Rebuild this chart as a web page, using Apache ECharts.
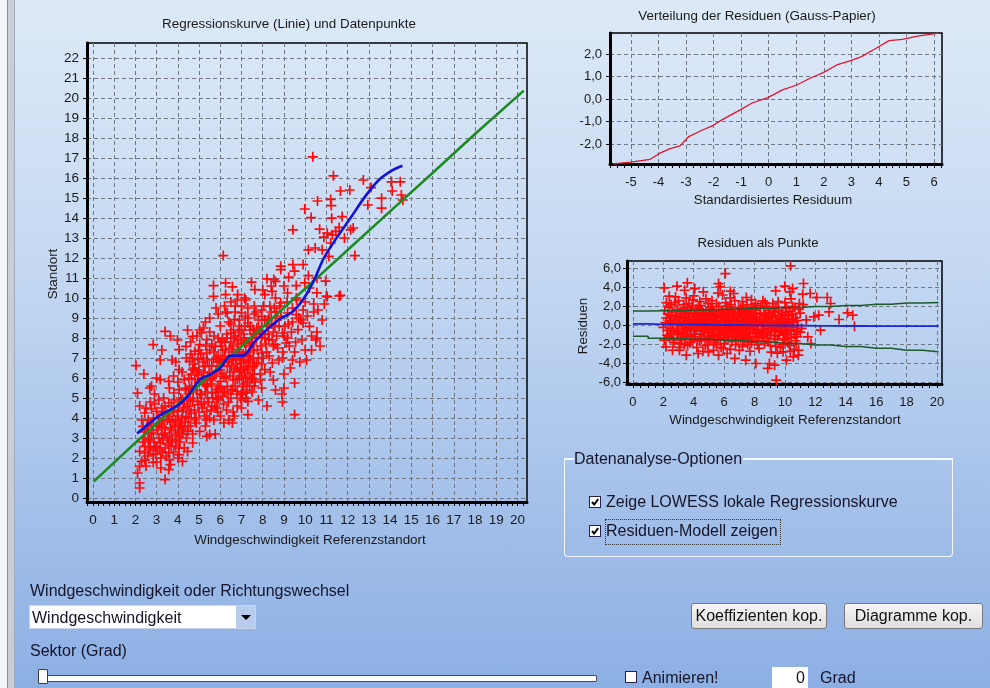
<!DOCTYPE html>
<html><head><meta charset="utf-8">
<script src="https://cdn.jsdelivr.net/npm/echarts@6/dist/echarts.min.js"></script>
<style>
html,body{margin:0;padding:0;}
body{width:990px;height:688px;position:relative;overflow:hidden;font-family:'Liberation Sans',Arial,sans-serif;
background:linear-gradient(to bottom,#dde9f7 0%,#c8dbf3 35%,#a9c4eb 68%,#8cafe4 100%);}
#chart{position:absolute;left:0;top:0;width:990px;height:688px;}
.ui{position:absolute;color:#15152a;font-size:16px;white-space:nowrap;line-height:19px;}
.cb{position:absolute;width:10px;height:10px;background:#fff;border:1px solid #23234a;}
.cb svg{position:absolute;left:0;top:0;}
.btn{position:absolute;height:26px;border:1px solid #7a7a7a;border-radius:3px;background:linear-gradient(#f6f6f6,#dedede);font-size:16px;color:#111;text-align:center;line-height:24px;box-sizing:border-box;}
</style></head>
<body>
<div style="position:absolute;left:0;top:0;width:7px;height:688px;background:#f3f5f8"></div>
<div style="position:absolute;left:7px;top:0;width:6px;height:688px;background:#c9ced6;border-left:1px solid #878d98;border-right:1px solid #a3abb8"></div>
<div id="chart"></div>

<div class="ui" style="left:30px;top:581px">Windgeschwindigkeit oder Richtungswechsel</div>
<div style="position:absolute;left:29px;top:605px;width:227px;height:24px;background:#fff;box-sizing:border-box;border:1px solid #c9d5e6">
  <div class="ui" style="left:2px;top:2px">Windgeschwindigkeit</div>
  <div style="position:absolute;right:0;top:0;width:19px;height:22px;background:#b8cdee">
    <div style="position:absolute;left:5px;top:9px;width:0;height:0;border-left:5px solid transparent;border-right:5px solid transparent;border-top:5px solid #000"></div>
  </div>
</div>
<div class="ui" style="left:30px;top:641px">Sektor (Grad)</div>
<div style="position:absolute;left:40px;top:675px;width:555px;height:5px;background:#fff;border:1px solid #4a4a4a;border-radius:1px"></div>
<div style="position:absolute;left:38px;top:669px;width:8px;height:13px;background:#fafafa;border:1px solid #3a3a3a;border-radius:1px"></div>

<div class="cb" style="left:625px;top:671px"></div>
<div class="ui" style="left:642px;top:668px">Animieren!</div>
<div style="position:absolute;left:772px;top:667px;width:36px;height:22px;background:#fff"></div>
<div class="ui" style="left:796px;top:668px">0</div>
<div class="ui" style="left:820px;top:668px">Grad</div>

<div class="btn" style="left:691px;top:603px;width:136px">Koeffizienten kop.</div>
<div class="btn" style="left:844px;top:603px;width:139px">Diagramme kop.</div>

<div style="position:absolute;left:564px;top:458px;width:389px;height:99px;border:1.5px solid #f4f8fd;border-top:none;border-radius:0 0 4px 4px;box-sizing:border-box"></div>
<div style="position:absolute;left:564px;top:458px;width:10px;height:1.5px;background:#f4f8fd"></div>
<div style="position:absolute;left:743px;top:458px;width:210px;height:1.5px;background:#f4f8fd"></div>
<div class="ui" style="left:574px;top:449px">Datenanalyse-Optionen</div>

<div class="cb" style="left:589px;top:496px"><svg width="10" height="10"><path d="M2 5 L4.2 7.5 L8.2 2.2" stroke="#000" stroke-width="2" fill="none"/></svg></div>
<div class="ui" style="left:606px;top:492px">Zeige LOWESS lokale Regressionskurve</div>
<div class="cb" style="left:589px;top:525px"><svg width="10" height="10"><path d="M2 5 L4.2 7.5 L8.2 2.2" stroke="#000" stroke-width="2" fill="none"/></svg></div>
<div style="position:absolute;left:605px;top:519px;width:176px;height:26px;border:1px dotted #333;box-sizing:border-box"></div>
<div class="ui" style="left:606px;top:521px">Residuen-Modell zeigen</div>

<script>
// ---------- data ----------
const mainTicksX = [0,1,2,3,4,5,6,7,8,9,10,11,12,13,14,15,16,17,18,19,20];
const mainTicksY = [0,1,2,3,4,5,6,7,8,9,10,11,12,13,14,15,16,17,18,19,20,21,22];
const gaussTicksX = [-5,-4,-3,-2,-1,0,1,2,3,4,5,6];
const gaussTicksY = [-2,-1,0,1,2];
const residTicksX = [0,2,4,6,8,10,12,14,16,18,20];
const residTicksY = [-6,-4,-2,0,2,4,6];
const mainMinorStep = 0.25, gaussMinorStep = 0.25, residMinorStep = 0.5;

const mainPoints = [
[2.03,6.62],[2.1,5.25],[2.2,4.6],[2.4,6.2],[2.76,5.6],[2.68,5.5],[3.0,6.0],[3.17,6.9],[2.84,7.67],[3.25,7.4],
[3.4,8.33],[3.65,8.1],[3.98,7.9],[3.73,6.9],[3.9,6.8],[4.46,8.4],[5.03,8.4],[5.3,8.8],[5.8,9.5],[6.25,9.3],
[6.8,9.9],[7.2,9.9],[7.6,9.6],[7.95,9.4],[8.6,10.0],[8.85,9.75],[9.17,9.25],[9.4,8.8],[9.9,9.4],[10.4,9.3],
[10.55,8.3],[10.9,9.7],[10.8,8.9],[11.0,10.1],[11.6,10.1],[10.55,8.0],[10.0,7.4],[10.3,7.4],[9.75,6.8],[10.06,6.9],
[9.5,7.3],[8.93,7.0],[8.6,7.67],[9.1,7.75],[8.5,5.9],[9.0,5.5],[9.5,5.75],[8.93,4.8],[8.2,4.6],[7.3,4.17],
[9.5,4.17],[7.95,5.5],[7.6,5.6],[7.3,4.83],[6.98,5.17],[6.66,4.1],[6.17,3.75],[6.57,3.75],[5.84,4.5],[5.5,3.17],
[5.76,3.2],[5.36,3.08],[5.03,3.33],[4.87,3.75],[4.7,2.75],[4.46,2.33],[4.06,2.17],[4.22,1.83],[4.46,3.33],[4.06,3.08],
[3.73,2.9],[3.57,2.25],[3.65,1.67],[3.4,0.92],[3.57,1.42],[3.17,2.75],[3.25,3.17],[3.0,3.58],[2.84,2.17],[2.84,1.78],
[2.44,2.25],[2.2,2.33],[2.3,1.83],[2.2,1.58],[2.1,1.25],[2.2,0.75],[2.2,0.5],[2.44,2.58],[2.68,2.92],[2.92,2.58],
[2.6,3.9],[2.44,4.25],[2.76,4.45],[3.0,4.33],[3.25,3.58],[3.4,3.25],[3.65,3.5],[3.9,3.9],[4.06,3.58],[4.22,4.33],
[4.38,4.08],[4.63,4.25],[4.7,4.83],[4.95,4.67],[4.46,4.58],[4.22,4.92],[4.06,5.42],[3.81,5.25],[3.57,4.75],[3.33,5.0],
[3.17,5.92],[3.57,5.83],[4.06,6.42],[4.3,5.92],[4.55,5.5],[4.8,5.92],[4.7,6.42],[4.95,6.92],[4.8,7.33],[5.03,7.67],
[5.36,7.25],[5.28,6.58],[5.5,6.25],[5.36,5.58],[5.6,5.25],[5.84,5.42],[6.0,5.83],[6.17,6.08],[6.33,6.58],[6.0,6.92],
[5.76,7.58],[6.1,7.92],[6.5,8.25],[6.8,7.92],[7.0,8.42],[7.3,8.75],[7.55,8.42],[7.95,8.58],[8.3,9.0],[7.95,9.08],
[6.66,8.92],[6.33,9.25],[7.0,9.25],[6.8,7.42],[7.14,7.75],[7.3,7.08],[6.98,6.75],[6.66,6.42],[7.14,6.25],[7.47,5.92],
[6.8,5.92],[6.5,5.42],[7.06,5.58],[7.22,5.25],[7.7,6.75],[7.95,7.25],[8.3,7.92],[8.45,6.75],[8.1,6.42],[8.93,8.25],
[9.17,8.0],[8.77,8.58],[9.66,8.42],[9.9,8.75],[10.2,8.58],[9.58,9.17],[5.68,6.92],[5.36,7.92],[5.11,8.25],[4.55,6.83],
[4.38,7.58],[4.06,7.42],[4.7,8.08],
[6.0,6.42],[6.25,7.42],[6.57,6.92],[6.9,6.33],[7.22,6.58],[7.38,5.58],[6.8,5.33],[6.33,5.58],[6.09,5.08],[5.84,4.92],
[5.6,4.58],[5.36,4.33],[5.11,5.17],[5.28,5.67],[4.95,6.17],[4.63,6.17],[4.38,5.42],[4.14,5.0],[3.81,4.33],[3.57,4.08],
[3.25,4.5],[3.08,4.0],[2.84,3.25],[2.6,3.42],[2.36,3.58],
[10.36,17.06],[11.33,16.11],[11.66,15.35],[12.1,15.4],[12.74,15.9],[13.1,15.52],[14.07,15.81],[14.48,15.81],[14.1,15.35],[14.53,15.15],
[14.6,14.9],[13.6,14.99],[13.6,14.49],[12.95,14.65],[10.58,14.85],[11.2,14.93],[11.23,14.62],[9.98,14.45],[10.28,14.02],[11.25,13.99],
[11.74,14.07],[9.42,13.41],[10.68,13.44],[11.04,13.24],[11.28,13.16],[11.44,13.33],[11.6,13.53],[11.85,13.0],[12.14,13.41],[12.26,13.5],
[11.2,12.75],[10.88,13.04],[10.15,12.41],[10.47,12.5],[10.8,12.41],[11.12,12.08],[12.34,12.12],[6.14,12.12],[8.85,11.59],[9.42,11.67],
[9.9,11.67],[9.5,11.34],[8.85,11.42],[9.22,11.04],[10.15,11.12],[10.55,11.0],[10.96,10.84],[9.98,10.76],[9.58,10.62],[8.2,10.96],
[8.52,10.92],[7.47,10.79],[5.68,10.62],[6.25,10.76],[6.57,10.56],[11.66,10.13],[11.04,10.06],[10.55,10.26],
[5.68,10.08],[6.25,10.17],[6.82,10.17],[7.14,10.0],[8.1,10.17],[8.44,10.33],[9.17,10.25],[9.58,10.0],[7.63,10.42],[8.6,10.83],
[4.2,3.2],[4.4,3.0],[4.6,3.6],[4.8,3.9],[4.3,4.7],[4.5,5.2],[4.9,5.4],[5.1,4.8],[5.2,5.9],[5.4,6.1],
[5.6,6.6],[5.8,6.3],[5.9,7.1],[6.1,7.4],[6.2,6.8],[6.4,7.0],[6.6,7.6],[6.7,8.1],[6.9,8.6],[7.1,8.2],
[7.2,7.3],[7.4,6.9],[7.5,7.7],[7.7,8.0],[7.8,8.9],[8.0,8.2],[8.2,8.6],[8.4,9.3],[8.6,9.0],[8.8,9.6],
[6.5,5.0],[6.8,4.6],[7.0,4.9],[6.3,4.4],[6.0,4.1],[5.7,3.9],[5.5,4.0],[5.3,3.6],[5.0,4.3],[4.7,3.2],
[3.9,2.6],[3.7,3.4],[3.5,3.9],[3.3,4.3],[3.1,4.9],[2.9,5.2],[2.7,4.8],[2.5,4.5],[3.6,5.5],[3.8,6.1],
[4.0,5.8],[4.2,6.3],[4.4,7.0],[4.6,7.8],[4.9,8.1],[5.2,8.5],[5.5,9.0],[5.9,9.2],[6.2,9.6],[6.5,9.8],
[7.3,9.5],[7.6,9.2],[6.6,6.1],[6.9,6.0],[7.1,6.9],[7.3,6.4],[7.6,6.2],[7.9,5.9],[7.2,5.0],[7.5,5.3],
[7.8,4.9],[6.2,5.3],[5.9,5.6],[5.6,5.7],[5.4,5.0],[5.0,6.4],[4.8,6.7],[5.2,7.0],[5.5,7.4],[5.7,8.1],
[6.0,8.6],[6.3,8.2],[6.5,8.7],[6.7,9.3],[7.0,9.6],[7.4,8.4],[7.9,7.6],[8.1,8.0],[8.3,7.1],[8.5,8.3],
[8.7,7.5],[9.0,8.1],[9.2,8.7],[9.4,9.5],[9.6,9.9],[9.8,8.9],[10.0,9.8],[10.2,10.5],[10.4,9.7],[10.6,9.4],
[10.7,7.6],[10.5,7.9],[9.3,6.5],[9.0,6.2],[8.9,5.2],[8.6,5.4],[9.4,6.9],[6.4,3.9],[6.6,4.3],[7.0,4.5],
[4.1,2.8],[4.3,2.5],[3.8,2.3],[3.4,2.5],[3.2,2.0],[3.0,1.8],[2.7,2.5],[2.6,2.9],[2.4,3.0],[3.1,3.0],
[3.5,3.0],[4.0,3.3],[4.5,4.0],[4.0,4.4],[3.7,4.6],[3.4,4.6],
[6.35,5.2],[6.45,6.3],[6.55,7.3],[6.62,8.4],[6.7,5.6],[6.75,6.7],[6.85,7.7],[6.9,8.9],[6.95,5.0],[7.02,6.1],
[7.08,7.2],[7.12,8.0],[7.18,9.1],[7.25,5.4],[7.32,6.8],[7.38,7.6],[7.42,8.6],[7.5,6.0],[7.55,7.0],[7.62,8.2],
[7.68,9.3],[6.4,6.8],[6.6,5.9],[6.8,6.5],[7.0,7.0],[7.2,6.0],[7.4,7.3],[6.5,7.8],[6.9,7.3],[7.1,5.7],
[6.7,9.6],[7.3,9.0],[6.4,8.8],[7.6,6.6],[6.6,6.9],[6.95,6.4],
[4.55,4.4],[4.65,5.6],[4.75,6.5],[4.85,4.0],[4.92,5.0],[5.0,5.8],[5.08,7.2],[5.15,4.5],[5.22,6.3],[5.3,5.3],
[5.38,6.9],[5.45,4.8],[5.52,5.9],[5.6,7.7],[5.65,5.0],[5.72,6.1],[5.8,7.0],[5.88,4.3],[5.95,6.6],[6.02,5.5],
[6.1,6.9],[6.15,4.7],[6.22,7.8],[5.25,4.1],[5.5,8.3],[4.6,7.2],[5.9,8.0],[6.05,7.6],[5.35,3.9],[5.75,4.6],
[2.35,2.8],[2.45,1.9],[2.55,3.6],[2.65,2.4],[2.75,3.2],[2.85,4.0],[2.95,2.2],[3.05,3.4],[3.15,2.4],[3.22,3.8],
[3.3,2.9],[3.38,3.5],[3.45,2.1],[3.52,4.2],[3.6,3.1],[3.68,2.6],[3.75,3.8],[3.82,4.9],[3.9,3.2],[3.98,4.1],
[4.05,2.5],[4.12,3.7],[4.2,4.0],[4.28,3.4],[4.35,5.5],[2.3,3.9],[2.5,1.6],[2.9,4.7],[3.2,1.5],[3.6,1.9],
[4.0,2.0],[3.3,3.9],
[7.75,7.4],[7.85,8.3],[7.95,6.7],[8.05,9.6],[8.15,7.7],[8.25,8.9],[8.35,6.3],[8.45,7.9],[8.55,9.5],[8.65,8.1],
[8.75,6.9],[8.85,9.1],[8.95,7.3],[9.05,8.6],[9.15,9.8],[9.25,7.6],[9.35,8.3],[9.55,7.8],[9.7,9.0],[9.85,7.9],
[10.1,9.1],[10.3,8.1],[8.0,10.4],[8.4,10.6],[9.0,10.6],
[4.52,6.0],[4.58,4.9],[4.68,7.0],[4.72,5.3],[4.78,4.4],[4.88,6.3],[4.98,7.4],[5.05,5.2],[5.12,6.0],[5.18,6.8],
[5.24,4.7],[5.32,7.6],[5.4,5.6],[5.48,6.6],[5.56,4.4],[5.62,6.0],[5.7,7.3],[5.78,5.3],[5.86,6.8],[5.92,5.0],
[6.0,7.8],[6.08,6.2],[6.12,5.3],[6.2,7.1],[6.28,6.0],[6.32,8.0],[6.38,4.8],[6.44,7.5],[6.52,6.6],[6.58,5.4],
[6.64,8.0],[6.72,7.0],[6.78,5.2],[6.86,8.3],[6.92,6.9],[6.98,7.9],[7.04,5.3],[7.1,6.5],[7.16,8.6],[7.22,7.8],
[7.28,5.8],[7.34,7.1],[7.4,6.1],[7.46,8.0],[7.52,6.5],[7.58,7.4],[7.64,5.8],[7.72,8.5],[7.8,7.0],[7.88,6.2],
[7.94,8.0],[8.02,7.0],[8.1,8.9],[8.18,7.3],[8.26,8.2],[8.34,9.6],[8.42,8.7],[8.5,7.6],[8.58,8.6],[8.66,9.3],
[3.55,2.7],[3.62,3.9],[3.7,2.8],[3.78,4.3],[3.86,3.6],[3.94,2.9],[4.02,3.9],[4.1,4.8],[4.18,3.5],[4.26,4.5],
[4.34,3.8],[4.42,5.0],[4.48,3.6],[2.45,3.3],[2.58,2.1],[2.72,3.7],[2.88,2.8],[3.02,2.5],[3.12,3.7],[3.28,2.3]
];

const regLineX = [0.03, 2, 4, 6, 8, 10, 12, 14, 16, 18, 20.3];
const regLineY = [0.82, 2.76, 4.68, 6.62, 8.55, 10.47, 12.4, 14.33, 16.25, 18.2, 20.37];

const lowessX = [2.08,3.08,3.57,3.98,4.46,5.03,5.52,6.0,6.49,7.06,7.63,8.28,8.77,9.42,9.9,10.39,10.88,11.53,12.18,12.82,13.47,14.12,14.58];
const lowessY = [3.22,4.08,4.38,4.62,5.08,5.92,6.17,6.5,7.12,7.12,7.83,8.5,8.92,9.33,9.92,10.83,12.0,13.08,14.07,15.07,15.9,16.39,16.61];

const gaussX = [-5.65,-5.0,-4.3,-3.95,-3.6,-3.2,-2.9,-2.4,-2.05,-1.7,-1.1,-0.6,-0.03,0.5,1.02,1.5,1.98,2.47,2.95,3.37,3.9,4.37,4.85,5.45,6.18];
const gaussY = [-2.89,-2.81,-2.68,-2.41,-2.22,-2.07,-1.67,-1.38,-1.2,-0.93,-0.53,-0.18,0.06,0.4,0.62,0.92,1.17,1.51,1.69,1.88,2.25,2.59,2.65,2.8,2.92];

const residPoints = [
[10.37,6.26],[6.08,5.45],[2.06,3.95],[2.39,3.08],[2.9,4.13],[3.4,3.7],[3.58,4.48],[4.07,3.88],[4.63,3.53],[5.63,4.4],
[5.74,4.06],[6.41,3.6],[6.63,3.36],[7.46,2.94],[9.39,3.64],[9.99,4.13],[10.32,3.53],[10.5,3.88],[11.22,4.41],[11.17,3.29],
[11.66,3.36],[12.1,2.94],[12.78,2.94],[13.0,2.31],[12.9,1.43],[13.56,0.63],[14.12,1.33],[14.46,1.08],[14.57,-0.07],[12.22,1.08],
[11.9,0.91],[12.34,-0.49],[11.71,-1.89],[10.88,-3.11],[10.55,-3.29],[10.1,-3.64],[9.88,-2.76],[9.32,-4.16],[8.98,-3.99],[8.87,-4.51],
[9.43,-5.73],[8.09,-3.99],[7.42,-3.64],[6.7,-3.46],[6.19,-2.94],[5.63,-3.11],[4.96,-2.76],[4.29,-2.94],[3.51,-3.11],[3.06,-2.59],
[2.17,-2.24],[2.06,-1.54],
[2.1,1.6],[2.2,0.8],[2.3,-0.5],[2.4,-1.2],[2.5,2.2],[2.6,0.2],[2.7,-1.8],[2.8,1.1],[2.9,-0.9],[3.0,2.6],
[3.1,0.4],[3.2,-1.5],[3.3,1.8],[3.4,-0.3],[3.5,2.9],[3.6,-2.1],[3.7,0.9],[3.8,-1.1],[3.9,2.1],[4.0,-0.6],
[4.1,1.4],[4.2,-2.3],[4.3,0.1],[4.4,2.5],[4.5,-1.4],[4.6,1.0],[4.7,-0.2],[4.8,2.8],[4.9,-2.0],[5.0,0.6],
[5.1,1.9],[5.2,-0.9],[5.3,-2.6],[5.4,0.3],[5.5,2.3],[5.6,-1.3],[5.7,1.2],[5.8,-0.4],[5.9,3.2],[6.0,-1.9],
[6.1,0.8],[6.2,2.0],[6.3,-0.7],[6.4,-2.5],[6.5,1.5],[6.6,0.0],[6.7,2.6],[6.8,-1.6],[6.9,0.9],[7.0,-0.3],
[7.1,1.8],[7.2,-2.2],[7.3,0.4],[7.4,-1.0],[7.5,2.2],[7.6,-0.5],[7.7,1.1],[7.8,-1.8],[7.9,0.2],[8.0,1.6],
[8.1,-0.8],[8.2,2.1],[8.3,-2.4],[8.4,0.6],[8.5,-1.2],[8.6,1.3],[8.7,-0.1],[8.8,2.0],[8.9,-1.7],[9.0,0.5],
[9.1,-2.8],[9.2,1.0],[9.3,-0.6],[9.4,1.9],[9.5,-1.4],[9.6,0.3],[9.7,-2.3],[9.8,1.2],[9.9,-0.9],[10.0,2.4],
[10.1,0.0],[10.2,-1.8],[10.3,1.5],[10.4,-0.4],[10.5,2.0],[10.6,-2.5],[10.7,0.8],[10.8,-1.2],[10.9,1.7],[11.0,-0.7],
[2.0,-0.2],[2.2,2.4],[2.4,0.5],[2.6,-2.6],[2.8,3.0],[3.0,-0.8],[3.2,1.3],[3.4,-2.0],[3.6,0.0],[3.8,1.6],
[4.0,3.1],[4.2,0.7],[4.4,-0.9],[4.6,-2.7],[4.8,1.4],[5.0,-1.6],[5.2,2.6],[5.4,-0.1],[5.6,3.4],[5.8,-2.3],
[6.0,1.1],[6.2,-0.2],[6.4,2.9],[6.6,-1.1],[6.8,0.4],[7.0,-2.6],[7.2,2.5],[7.4,0.8],[7.6,-1.5],[7.8,2.7],
[8.0,-0.3],[8.2,-2.0],[8.4,1.9],[8.6,-0.7],[8.8,0.9],[9.0,-1.0],[9.2,2.3],[9.4,-2.2],[9.6,1.6],[9.8,-0.2],
[10.0,-1.4],[10.2,1.0],[10.4,2.8],[10.6,-0.9],[10.8,0.5],[11.0,1.3],[11.2,2.2],[11.4,0.6],[11.5,-1.2],
[2.3,1.2],[2.5,-0.8],[2.7,0.6],[2.9,1.7],[3.1,-1.9],[3.3,0.7],[3.5,-0.6],[3.7,2.3],[3.9,-1.5],[4.1,0.3],
[4.3,1.9],[4.5,0.5],[4.7,-1.1],[4.9,0.9],[5.1,-0.4],[5.3,1.5],[5.5,-2.0],[5.7,0.1],[5.9,-0.9],[6.1,2.4],
[6.3,0.6],[6.5,-1.7],[6.7,-0.5],[6.9,1.3],[7.1,-1.3],[7.3,1.0],[7.5,-0.8],[7.7,-2.7],[7.9,1.9],[8.1,0.9],
[8.3,-1.1],[8.5,0.2],[8.7,2.4],[8.9,0.7],[9.1,-0.5],[9.3,1.4],[9.5,-2.9],[9.7,0.6],[9.9,-1.5],[10.1,1.8],
[10.3,-2.1],[10.5,0.3],[10.7,-1.6],[10.9,-2.6],
[4.2,-0.2],[4.6,0.3],[5.0,-0.7],[5.4,0.9],[5.8,0.5],[6.2,-0.8],[6.6,0.7],[7.0,0.2],[7.4,-0.3],[7.8,0.6],
[4.4,1.1],[4.8,-0.4],[5.2,0.1],[5.6,-0.6],[6.0,0.3],[6.4,-0.1],[6.8,-0.6],[7.2,-0.5],[7.6,0.3],[8.0,-1.3],
[5.5,1.0],[6.5,0.5],[7.5,-1.2],[4.9,-1.3],[6.1,-1.4],[5.3,-1.1],[6.9,-0.9],[7.3,-1.6],[5.9,1.6],[6.7,1.1],
[2.15,0.3],[2.25,-1.0],[2.35,1.9],[2.45,-0.3],[2.55,1.0],[2.65,-1.5],[2.75,2.4],[2.85,-0.5],[2.95,0.8],[3.05,-2.3],
[3.15,1.5],[3.25,-0.1],[3.35,2.2],[3.45,-1.2],[3.55,0.5],[3.65,1.2],[3.75,-1.8],[3.85,0.2],[3.95,2.7],[4.05,-0.9],
[4.15,1.7],[4.25,-1.6],[4.35,0.4],[4.45,2.1],[4.55,-0.5],[4.65,1.3],[4.75,-2.1],[4.85,0.1],[4.95,2.3],[5.05,-1.1],
[5.15,0.7],[5.25,1.6],[5.35,-1.8],[5.45,0.4],[5.55,-0.8],[5.65,2.0],[5.75,-0.2],[5.85,1.0],[5.95,-2.4],[6.05,0.6],
[6.15,1.7],[6.25,-1.2],[6.35,0.2],[6.45,2.2],[6.55,-0.6],[6.65,1.4],[6.75,-2.0],[6.85,0.0],[6.95,1.9],[7.05,-1.0],
[7.15,0.6],[7.25,2.0],[7.35,-0.7],[7.45,1.5],[7.55,-2.0],[7.65,0.3],[7.75,1.7],[7.85,-1.2],[7.95,0.8],[8.05,2.3],
[8.15,-1.6],[8.25,0.1],[8.35,1.2],[8.45,-0.4],[8.55,2.6],[8.65,-1.9],[8.75,0.7],[8.85,-0.8],[8.95,1.6],[9.05,-2.1],
[9.15,0.2],[9.25,1.8],[9.35,-1.1],[9.45,0.5],[9.55,2.5],[9.65,-0.7],[9.75,1.1],[9.85,-2.0],[9.95,0.1],[10.05,1.4],
[10.15,-1.1],[10.25,0.6],[10.35,-2.7],[10.45,1.1],[10.55,-0.2],[10.65,1.9],[10.75,-1.9],[10.85,0.0],[10.95,2.3],[11.1,-0.3],
[4.4,0.4],[4.9,-0.1],[5.3,0.6],[5.7,-0.4],[6.1,0.1],[6.5,-0.3],[6.9,0.5],[7.3,-0.2],[7.7,0.4],[8.1,0.1],
[4.6,-0.6],[5.0,1.1],[5.4,-1.4],[5.8,1.4],[6.2,0.9],[6.6,-0.9],[7.0,1.2],[7.4,-1.4],[7.8,1.0],[8.2,-0.5],
[3.0,0.1],[3.4,0.9],[3.8,-0.4],[8.6,0.5],[9.0,1.3],[9.4,-0.2],[9.8,0.7],[10.2,-0.6],[2.6,1.4],[3.6,-0.9],
[3.1,0.9],[3.3,-0.7],[3.5,1.4],[3.7,-0.2],[3.9,0.6],[4.1,-1.2],[4.3,1.2],[4.5,-0.2],[4.7,0.8],[4.9,-0.7],
[5.1,1.3],[5.3,-0.3],[5.5,0.2],[5.7,-1.0],[5.9,0.8],[6.1,-0.5],[6.3,1.1],[6.5,0.0],[6.7,-1.2],[6.9,0.2],
[7.1,-0.6],[7.3,1.5],[7.5,0.3],[7.7,-0.8],[7.9,-0.2],[8.1,1.3],[8.3,0.4],[8.5,-0.5],[8.7,1.0],[8.9,-0.3],
[9.1,0.9],[9.3,-1.4],[9.5,0.1],[9.7,-0.5],[9.9,0.4],[10.1,-0.8],[10.3,0.2],[10.5,1.2],[3.2,-1.1],[3.6,1.9],
[4.0,0.9],[4.4,-1.6],[4.8,0.6],[5.2,1.7],[5.6,0.5],[6.0,-0.8],[6.4,1.9],[6.8,-0.2],[7.2,0.9],[7.6,1.3],
[8.0,0.5],[8.4,-0.9],[8.8,-1.3],[9.2,-0.2],[9.6,-1.0],[10.0,0.6],[10.4,-1.3],[2.5,0.4],[2.7,-0.6],[2.9,0.1],
[3.35,0.3],[3.75,0.5],[4.15,-0.3],[4.55,1.6],[4.95,0.3],[5.35,1.1],[5.75,-1.5],[6.15,-0.2],[6.55,1.2],[6.95,-1.4],
[7.35,0.2],[7.75,-0.3],[8.15,0.6],[8.55,-1.1],[8.95,0.3],[9.35,0.9],[9.75,-0.4],[10.15,0.4],[10.55,0.7],[10.75,-0.6]
];

const residModelX = [0, 2, 4, 6, 8, 10, 12, 14, 16, 18, 20.1];
const residUpperY = [1.52, 1.55, 1.62, 1.7, 1.8, 1.9, 2.0, 2.1, 2.22, 2.35, 2.42];
const residLowerY = [-1.12, -1.35, -1.45, -1.55, -1.7, -1.88, -2.05, -2.2, -2.4, -2.6, -2.76];
const residMeanY = [0.17, 0.12, 0.08, 0.05, 0.02, 0.0, -0.03, -0.05, -0.06, -0.07, -0.07];

// ---------- chart ----------
const FONT = "'Liberation Sans', Arial, sans-serif";
const zip = (a, b) => a.map((v, i) => [v, b[i]]);
const comma = v => v.toFixed(1).replace('.', ',');
const PLUS = 'path://M0,5L10,5M5,0L5,10';
const GRID_LINE = {show:true, lineStyle:{color:'#6f7782', type:[4,3], width:1}};
function steps(min, max, step) {
  const out = [];
  for (let v = Math.ceil(min / step) * step; v <= max + 1e-9; v += step) out.push(Math.round(v * 1000) / 1000);
  return out;
}
function xBottom(gi, min, max, ticks, minorStep, margin, fs) {
  return {type:'value', gridIndex:gi, min, max, position:'bottom',
    axisLine:{onZero:false, lineStyle:{color:'#000', width:3}},
    axisTick:{inside:false, length:4, customValues:steps(min, max, minorStep), lineStyle:{color:'#000', width:1}},
    axisLabel:{customValues:ticks, margin, color:'#1a1a1a', fontSize:fs, fontFamily:FONT},
    splitLine:{show:false}};
}
function xGridOnly(gi, min, max, ticks) {
  return {type:'value', gridIndex:gi, min, max, position:'top',
    axisLine:{show:false}, axisLabel:{show:false},
    axisTick:{show:false, customValues:ticks}, splitLine:GRID_LINE};
}
function yLeft(gi, min, max, ticks, margin, fmt, fs) {
  return {type:'value', gridIndex:gi, min, max,
    axisLine:{onZero:false, lineStyle:{color:'#000', width:3}},
    axisTick:{inside:false, length:4, customValues:ticks, lineStyle:{color:'#000'}},
    axisLabel:{customValues:ticks, margin, color:'#1a1a1a', fontSize:fs, fontFamily:FONT, formatter:fmt},
    splitLine:GRID_LINE};
}

const chart = echarts.init(document.getElementById('chart'), null, {renderer:'canvas'});
const txt = (text, x, y, rot, size) => ({type:'text', x, y, rotation:rot||0, silent:true,
  style:{text, align:'center', verticalAlign:'middle', font:size+'px '+FONT, fill:'#1a1a1a'}});

chart.setOption({
  animation:false,
  backgroundColor:'transparent',
  grid:[
    {left:87, top:43, width:440, height:459, show:true, borderColor:'#000', borderWidth:1.5, backgroundColor:'transparent'},
    {left:610, top:33, width:332, height:131, show:true, borderColor:'#000', borderWidth:1.5, backgroundColor:'transparent'},
    {left:627, top:261, width:315, height:123, show:true, borderColor:'#000', borderWidth:1.5, backgroundColor:'transparent'}
  ],
  xAxis:[
    xBottom(0, -0.28, 20.45, mainTicksX, mainMinorStep, 11, 13.5),
    xGridOnly(0, -0.28, 20.45, mainTicksX),
    xBottom(1, -5.76, 6.29, gaussTicksX, gaussMinorStep, 12, 13),
    xGridOnly(1, -5.76, 6.29, gaussTicksX),
    xBottom(2, -0.39, 20.33, residTicksX, residMinorStep, 12, 13),
    xGridOnly(2, -0.39, 20.33, residTicksX)
  ],
  yAxis:[
    yLeft(0, -0.2, 22.75, mainTicksY, 8, v => String(v), 13.5),
    yLeft(1, -2.89, 2.93, gaussTicksY, 8, comma, 13),
    yLeft(2, -6.14, 6.77, residTicksY, 6, comma, 13)
  ],
  graphic:[
    txt('Regressionskurve (Linie) und Datenpunkte', 289, 24, 0, 13.4),
    txt('Windgeschwindigkeit Referenzstandort', 310, 540, 0, 13.4),
    txt('Standort', 53, 274, Math.PI/2, 13.4),
    txt('Verteilung der Residuen (Gauss-Papier)', 757, 16, 0, 13.4),
    txt('Standardisiertes Residuum', 773, 200, 0, 13.2),
    txt('Residuen als Punkte', 758, 243, 0, 13.2),
    txt('Windgeschwindigkeit Referenzstandort', 785, 420, 0, 13.4),
    txt('Residuen', 583, 326, Math.PI/2, 13.4)
  ],
  series:[
    {type:'scatter', xAxisIndex:0, yAxisIndex:0, data:mainPoints, symbol:PLUS, symbolSize:10,
      itemStyle:{color:'rgba(0,0,0,0)', borderColor:'#ff0a0a', borderWidth:1.7, opacity:1}},
    {type:'line', xAxisIndex:0, yAxisIndex:0, data:zip(regLineX, regLineY), showSymbol:false,
      lineStyle:{color:'#1e8a24', width:2.6}},
    {type:'line', xAxisIndex:0, yAxisIndex:0, data:zip(lowessX, lowessY), showSymbol:false, smooth:0.3,
      lineStyle:{color:'#1212d8', width:2.6}},
    {type:'line', xAxisIndex:2, yAxisIndex:1, data:zip(gaussX, gaussY), showSymbol:false,
      lineStyle:{color:'#e0142e', width:1.3}},
    {type:'scatter', xAxisIndex:4, yAxisIndex:2, data:residPoints, symbol:PLUS, symbolSize:10,
      itemStyle:{color:'rgba(0,0,0,0)', borderColor:'#ff0a0a', borderWidth:1.7, opacity:1}},
    {type:'line', xAxisIndex:4, yAxisIndex:2, data:zip(residModelX, residUpperY), showSymbol:false, step:'middle',
      lineStyle:{color:'#1d5a2e', width:1.5}},
    {type:'line', xAxisIndex:4, yAxisIndex:2, data:zip(residModelX, residLowerY), showSymbol:false, step:'middle',
      lineStyle:{color:'#1d5a2e', width:1.5}},
    {type:'line', xAxisIndex:4, yAxisIndex:2, data:zip(residModelX, residMeanY), showSymbol:false, step:'middle',
      lineStyle:{color:'#1a2ad8', width:1.8}}
  ]
});
</script>
</body></html>
